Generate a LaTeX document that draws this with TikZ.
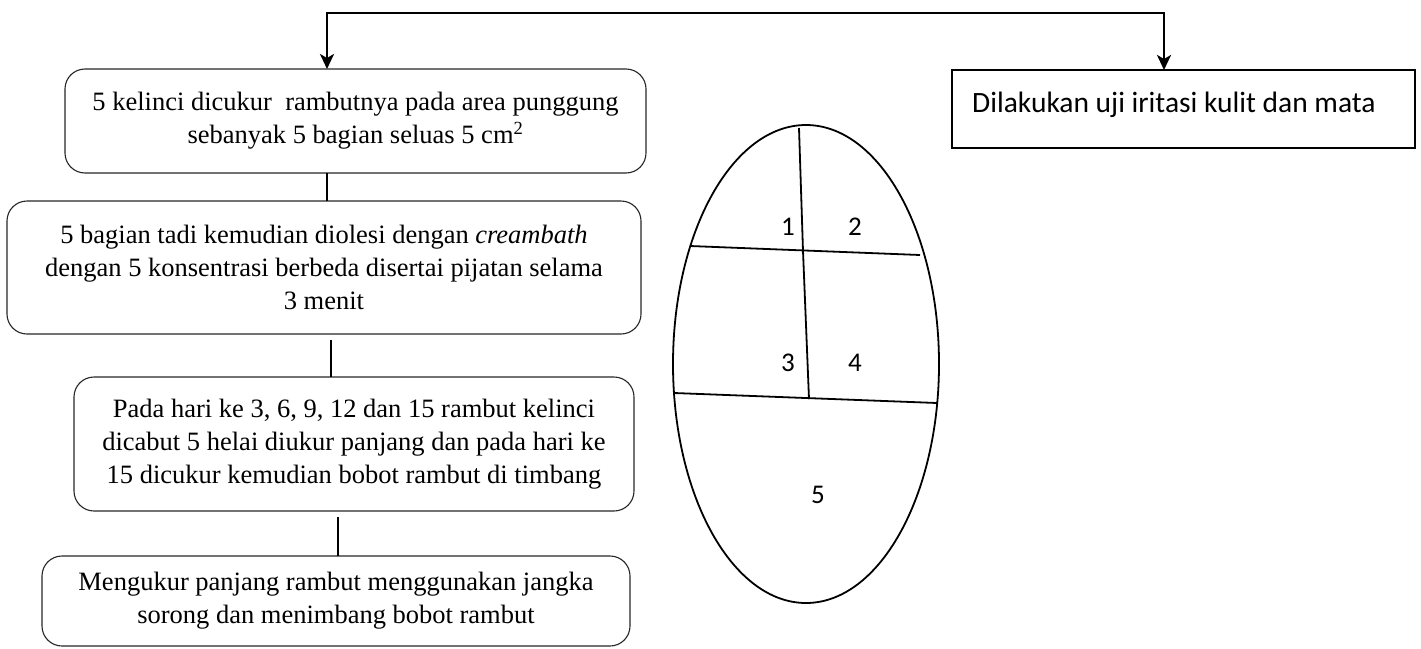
\documentclass[tikz,border=0pt]{standalone}
\usepackage{fontspec}
\setmainfont{Liberation Serif}
\newfontfamily\calibrifont{Carlito}
\usetikzlibrary{arrows.meta,shapes.geometric}
\begin{document}
\begin{tikzpicture}[x=1pt,y=-1pt,
  stepbox/.style={draw=black!85,line width=1.1pt,rounded corners=20pt,inner sep=0pt,outer sep=0pt,
    align=center,font=\fontsize{26.5}{33}\selectfont},
  rightbox/.style={draw=black,line width=1.8pt,inner sep=0pt,outer sep=0pt},
  link/.style={draw=black,line width=1.3pt},
  toparrow/.style={draw=black,line width=2.6pt,line join=miter,
    {Stealth[length=15pt,width=14pt,inset=4pt]}-{Stealth[length=15pt,width=14pt,inset=4pt]}},
  part/.style={draw=black,line width=1.8pt},
  num/.style={font=\calibrifont\fontsize{27}{32}\selectfont,inner sep=0pt}
]
\useasboundingbox (0,0) rectangle (1421,648);
% boxes
\node[stepbox,minimum width=581pt,minimum height=104pt] (b1) at (355.5,121)
  {5 kelinci dicukur\ \ rambutnya pada area punggung\\sebanyak 5 bagian seluas 5 cm\textsuperscript{2}};
\node[stepbox,minimum width=634pt,minimum height=133pt] (b2) at (324,267.5)
  {5 bagian tadi kemudian diolesi dengan \textit{creambath}\\dengan 5 konsentrasi berbeda disertai pijatan selama\\3 menit};
\node[stepbox,minimum width=560pt,minimum height=134pt] (b3) at (354,444)
  {Pada hari ke 3, 6, 9, 12 dan 15 rambut kelinci\\dicabut 5 helai diukur panjang dan pada hari ke\\15 dicukur kemudian bobot rambut di timbang};
\node[stepbox,minimum width=588pt,minimum height=90pt] (b4) at (336,601)
  {Mengukur panjang rambut menggunakan jangka\\sorong dan menimbang bobot rambut};
\node[rightbox,minimum width=463pt,minimum height=78pt] (rb) at (1183.5,109) {};
\node[anchor=base west,inner sep=0pt,font=\calibrifont\fontsize{29.5}{34}\selectfont] (rt) at (972,112)
  {Dilakukan uji iritasi kulit dan mata};
% top connector
\coordinate (tl) at (327,13);
\coordinate (tr) at (1164,13);
\draw[toparrow] (b1.north -| tl) |- (tr) -- (rb.north -| tr);
% links
\coordinate (c12) at (327,0);
\coordinate (c23) at (331,0);
\coordinate (c34) at (338,0);
\draw[link] (b1.south -| c12) -- (b2.north -| c12);
\draw[link,shorten <=6pt] (b2.south -| c23) -- (b3.north -| c23);
\draw[link,shorten <=6pt] (b3.south -| c34) -- (b4.north -| c34);
% ellipse
\node[draw=black,line width=1.8pt,ellipse,minimum width=266pt,minimum height=478pt,inner sep=0pt] (ov) at (806,364) {};
\draw[part] (690,246) -- (920,255);
\draw[part] (674,393) -- (937,403);
\draw[part] (799,128) -- (803,251) -- (809,399);
\node[num] (n1) at (788,227) {1};
\node[num] (n2) at (855,227) {2};
\node[num] (n3) at (788,363) {3};
\node[num] (n4) at (855,363) {4};
\node[num] (n5) at (818,495) {5};
\end{tikzpicture}
\end{document}
